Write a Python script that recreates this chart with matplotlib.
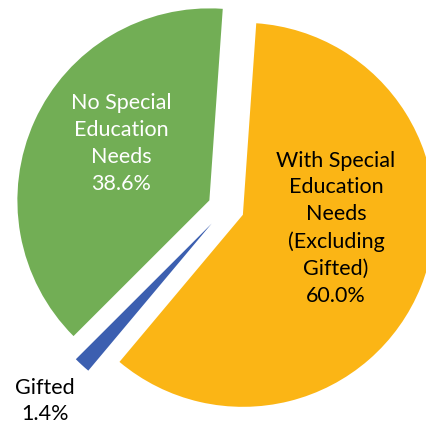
import matplotlib.pyplot as plt

# share of students by category
categories = ['With Special\nEducation\nNeeds\n(Excluding\nGifted)', 'Gifted', 'No Special\nEducation\nNeeds']
shares = [60.0, 1.4, 38.6]
colors = ['#FBB515', '#3C5FB0', '#72AE55']
text_colors = ['black', 'black', 'white']
label_pos = [(0.573, -0.105), (-0.943, -1.005), (-0.547, 0.335)]

plt.rcParams['font.family'] = ['Lato', 'DejaVu Sans']

fig = plt.figure(figsize=(4.26, 4.29), dpi=100)
ax = fig.add_axes([0, 0, 1, 1])

ax.pie(shares, colors=colors, startangle=86, counterclock=False,
       explode=[0.095, 0.11, 0.095], radius=1.0,
       wedgeprops=dict(linewidth=0))

for name, val, pos, tc in zip(categories, shares, label_pos, text_colors):
    ax.text(pos[0], pos[1], f'{name}\n{val:.1f}%', ha='center', va='center',
            multialignment='center', fontsize=15.5, color=tc, linespacing=1.43)

ax.set_xlim(-1.177, 1.042)
ax.set_ylim(-1.151, 1.083)
ax.set_aspect('auto')
ax.axis('off')

fig.savefig('out.png', dpi=100)
